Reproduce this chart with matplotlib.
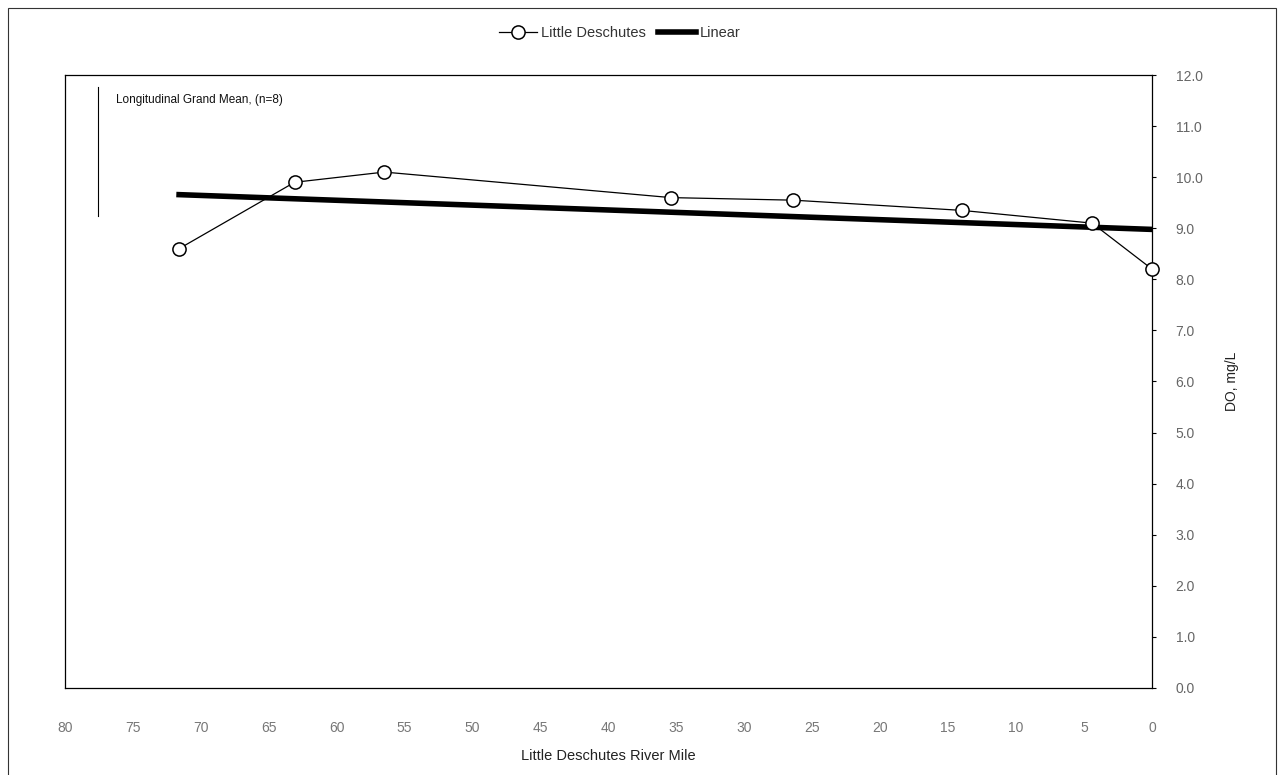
import numpy as np
import matplotlib.pyplot as plt
from matplotlib.patches import Rectangle

plt.rcParams['font.family'] = ['Liberation Sans', 'DejaVu Sans']

# longitudinal grand mean of dissolved oxygen by river mile
river_mile = [71.6, 63.1, 56.5, 35.4, 26.4, 14.0, 4.4, 0.0]
do_mgl = [8.6, 9.9, 10.1, 9.6, 9.55, 9.35, 9.1, 8.2]

x_ticks = [80, 75, 70, 65, 60, 55, 50, 45, 40, 35, 30, 25, 20, 15, 10, 5, 0]
y_ticks = [0, 1, 2, 3, 4, 5, 6, 7, 8, 9, 10, 11, 12]

# least squares trend over the same points
slope, intercept = np.polyfit(river_mile, do_mgl, 1)
trend_x = np.array([max(river_mile), min(river_mile)])
trend_y = slope * trend_x + intercept

fig = plt.figure(figsize=(12.81, 7.75), dpi=100)
ax = fig.add_axes([0.0507, 0.1123, 0.8486, 0.7909])

ax.plot(river_mile, do_mgl, color='black', lw=0.9, marker='o', ms=9.5,
        mfc='white', mec='black', mew=1.1, label='Little Deschutes', zorder=3,
        clip_on=False)
ax.plot(trend_x, trend_y, color='black', lw=4, label='Linear', zorder=2)

ax.set_xlim(80, 0)
ax.set_ylim(0, 12)
ax.set_xticks(x_ticks)
ax.set_xticklabels([str(v) for v in x_ticks], color='#777777', fontsize=10)
ax.tick_params(axis='x', length=0, pad=24)
ax.yaxis.tick_right()
ax.yaxis.set_label_position('right')
ax.set_yticks(y_ticks)
ax.set_yticklabels([f'{v:.1f}' for v in y_ticks], color='#666666', fontsize=10)
ax.tick_params(axis='y', length=3, width=0.8, pad=14, direction='out')
for s in ax.spines.values():
    s.set_linewidth(0.9)

ax.set_ylabel('DO, mg/L', fontsize=10, labelpad=16, color='#222222')
ax.set_xlabel('Little Deschutes River Mile', fontsize=10.5, labelpad=10,
              color='#222222')

ax.text(0.047, 0.96, 'Longitudinal Grand Mean, (n=8)', transform=ax.transAxes,
        fontsize=8.5, ha='left', va='center', color='#111111')
ax.plot([0.03, 0.03], [0.98, 0.77], transform=ax.transAxes, color='black',
        lw=0.8, clip_on=False)

fig.legend(loc='center', bbox_to_anchor=(0.484, 0.957), ncol=2, frameon=False,
           fontsize=10.5, handlelength=2.6, columnspacing=0.8, handletextpad=0.3,
           labelcolor='#333333')

# page frame around the chart
fig.add_artist(Rectangle((8 / 1281, -0.01), 1268 / 1281, 0.9997 - 8 / 775 + 0.01,
                         transform=fig.transFigure, fill=False, lw=0.8,
                         edgecolor='#333333'))
fig.text(0.118, 1.007, 'Deschutes River', fontsize=13, ha='left', va='center',
         color='#222222')

fig.savefig('out.png', dpi=100)
